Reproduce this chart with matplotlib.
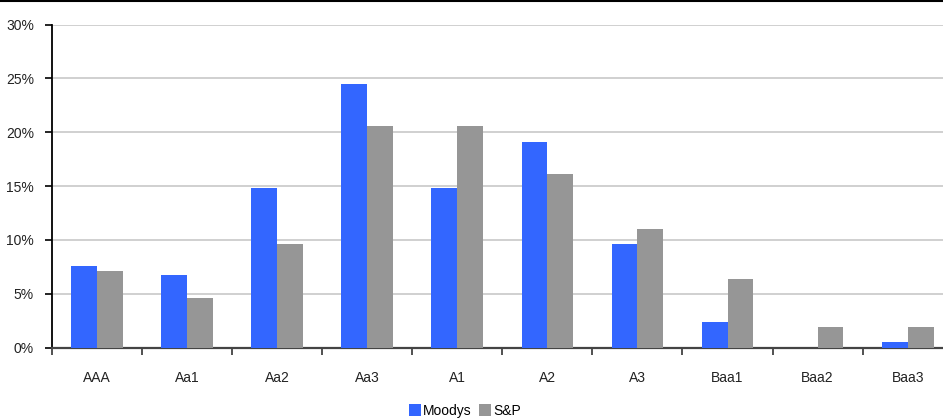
import matplotlib.pyplot as plt
import numpy as np
from matplotlib.ticker import FuncFormatter, MultipleLocator, FixedLocator
from matplotlib.lines import Line2D

plt.rcParams['font.family'] = ['Liberation Sans', 'DejaVu Sans']

# Rating distribution (%)
ratings = ['AAA', 'Aa1', 'Aa2', 'Aa3', 'A1', 'A2', 'A3', 'Baa1', 'Baa2', 'Baa3']
moodys = [7.6, 6.7, 14.8, 24.5, 14.8, 19.1, 9.6, 2.4, 0.0, 0.5]
sp = [7.1, 4.6, 9.6, 20.6, 20.6, 16.1, 11.0, 6.4, 1.9, 1.9]

BLUE = '#3366FF'
GRAY = '#969696'

fig = plt.figure(figsize=(9.43, 4.2), dpi=100)
ax = fig.add_axes([52 / 943, 72.5 / 420, 900.7 / 943, 323 / 420])

x = np.arange(len(ratings))
w = 0.287
ax.bar(x - w / 2, moodys, width=w, color=BLUE, label='Moodys', zorder=3)
ax.bar(x + w / 2, sp, width=w, color=GRAY, label='S&P', zorder=3)

ax.set_xlim(-0.5, len(ratings) - 0.5)
ax.set_ylim(0, 30)

# y axis
ax.yaxis.set_major_locator(MultipleLocator(5))
ax.yaxis.set_major_formatter(FuncFormatter(lambda v, p: f'{v:.0f}%'))
ax.grid(axis='y', color='#c8c8c8', linewidth=1.2, zorder=0)
ax.tick_params(axis='y', length=5, width=1.2, pad=8, labelsize=10,
               color='black', labelcolor='#222222')

# x axis: ticks at category boundaries, labels at centres
ax.xaxis.set_major_locator(FixedLocator(np.arange(len(ratings) + 1) - 0.5))
ax.xaxis.set_major_formatter(FuncFormatter(lambda v, p: ''))
ax.xaxis.set_minor_locator(FixedLocator(x))
ax.set_xticklabels(ratings, minor=True)
ax.tick_params(axis='x', which='major', direction='out', length=5, width=1.2, color='#333333')
ax.tick_params(axis='x', which='minor', length=0, pad=17, labelsize=10, labelcolor='#222222')

for s in ['top', 'right']:
    ax.spines[s].set_visible(False)
ax.spines['left'].set_color('black')
ax.spines['left'].set_linewidth(1.3)
ax.spines['bottom'].set_color('#444444')
ax.spines['bottom'].set_linewidth(1.6)

# top border line
fig.add_artist(Line2D([0, 1], [0.998, 0.998], color='black', linewidth=1.5,
                      transform=fig.transFigure))

fig.legend(loc='center', bbox_to_anchor=(465 / 943, 9 / 420), ncol=2, frameon=False,
           fontsize=10, handlelength=0.9, handleheight=0.9, handletextpad=0.15,
           columnspacing=0.5, borderpad=0)

fig.savefig('out.png', dpi=100, facecolor='white')
